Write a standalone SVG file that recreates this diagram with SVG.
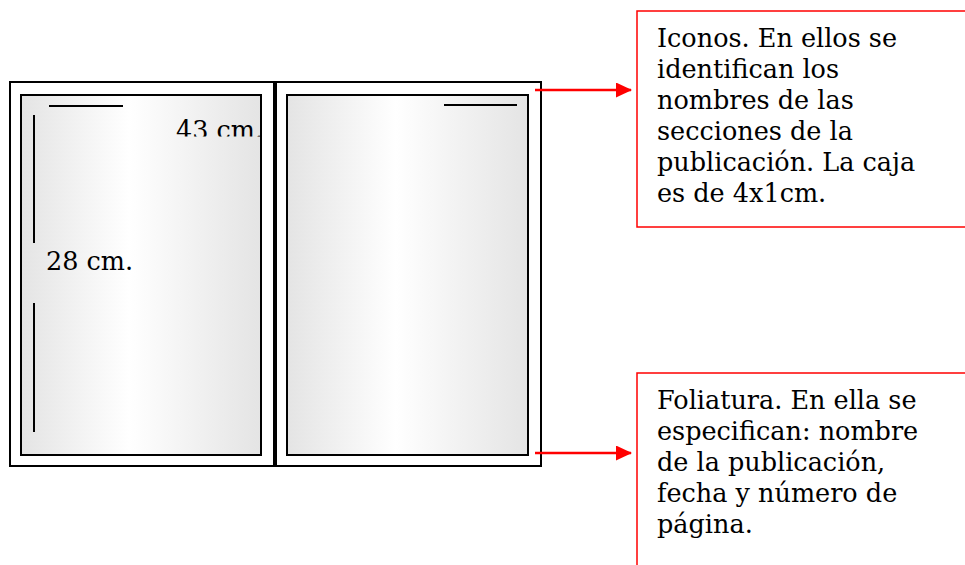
<svg xmlns="http://www.w3.org/2000/svg" width="965" height="565" viewBox="0 0 965 565">
<style>
.outer{fill:#fff;stroke:#000;stroke-width:2}
.inner{fill:url(#g);stroke:#000;stroke-width:2}
.mark{stroke:#000;stroke-width:2;fill:none}
.lbl{font-family:"DejaVu Serif","Liberation Serif",serif;font-size:25.5px;fill:#000}
.box{fill:#fff;stroke:#f00;stroke-width:1.5}
.arr{stroke:#f00;stroke-width:2.5;fill:none;marker-end:url(#ah)}
</style>
<defs>
<linearGradient id="g" x1="0" y1="0" x2="1" y2="0">
<stop offset="0" stop-color="#e4e4e4"/>
<stop offset="0.45" stop-color="#fff"/>
<stop offset="1" stop-color="#e4e4e4"/>
</linearGradient>
<marker id="ah" markerWidth="16" markerHeight="15" refX="15" refY="7.5" orient="auto" markerUnits="userSpaceOnUse" viewBox="0 0 16 15">
<path d="M0,0 L16,7.5 L0,15 Z" fill="#f00"/>
</marker>
<clipPath id="c43"><rect x="150" y="100" width="140" height="36.5"/></clipPath>
</defs>
<g id="page-left">
<rect class="outer" x="10" y="82" width="264" height="384"/>
<rect class="inner" x="21" y="95" width="240" height="360"/>
<line class="mark" x1="49" y1="106" x2="123" y2="106"/>
<line class="mark" x1="34" y1="115" x2="34" y2="243"/>
<line class="mark" x1="34" y1="303" x2="34" y2="432"/>
<text class="lbl" x="176" y="139" clip-path="url(#c43)">43 cm.</text>
<text class="lbl" x="46" y="270">28 cm.</text>
</g>
<g id="page-right">
<rect class="outer" x="276" y="82" width="265" height="384"/>
<rect class="inner" x="287" y="95" width="241" height="360"/>
<line class="mark" x1="444" y1="105" x2="517" y2="105"/>
</g>
<g id="connectors">
<line class="arr" x1="535" y1="90" x2="631" y2="90"/>
<line class="arr" x1="535" y1="453" x2="631" y2="453"/>
</g>
<g id="note-iconos">
<rect class="box" x="637" y="11" width="340" height="216"/>
<text class="lbl"><tspan x="657" y="47">Iconos. En ellos se</tspan><tspan x="657" y="78">identifican los</tspan><tspan x="657" y="109">nombres de las</tspan><tspan x="657" y="140">secciones de la</tspan><tspan x="657" y="171">publicación. La caja</tspan><tspan x="657" y="202">es de 4x1cm.</tspan></text>
</g>
<g id="note-foliatura">
<rect class="box" x="637" y="373" width="340" height="220"/>
<text class="lbl"><tspan x="657" y="409">Foliatura. En ella se</tspan><tspan x="657" y="440">especifican: nombre</tspan><tspan x="657" y="471">de la publicación,</tspan><tspan x="657" y="502">fecha y número de</tspan><tspan x="657" y="533">página.</tspan></text>
</g>
</svg>
